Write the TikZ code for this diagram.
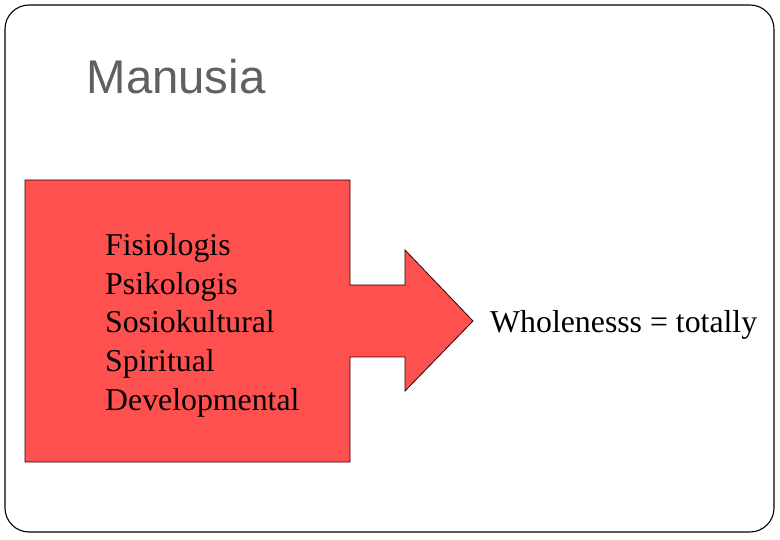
\documentclass[tikz,border=0pt]{standalone}
\usepackage{fontspec}
\setmainfont{Liberation Serif}
\newfontfamily\titlefont{Liberation Sans}
\definecolor{shapered}{HTML}{FF5050}
\definecolor{titlegray}{HTML}{606060}
\begin{document}
\begin{tikzpicture}[x=1pt,y=-1pt,
  itemtext/.style={anchor=base west,inner sep=0pt,font=\fontsize{31.8}{38.5}\selectfont},
  titletext/.style={anchor=base west,inner sep=0pt,text=titlegray,font=\titlefont\fontsize{47.3}{56}\selectfont},
  frame/.style={draw=black,line width=1.1pt,rounded corners=24pt},
  redshape/.style={draw=black!80!red,fill=shapered,line width=0.8pt}]
\useasboundingbox (0,0) rectangle (780,540);
\draw[frame] (5,5) rectangle (774,532);
\node[titletext] (title) at (86.5,94) {Manusia};
\draw[redshape] (25,180) -- (350,180) -- (350,285) -- (405,285) -- (405,250) -- (473,321) -- (405,391) -- (405,357) -- (350,357) -- (350,462) -- (25,462) -- cycle;
\node[itemtext] (l1) at (105,256) {Fisiologis};
\node[itemtext] (l2) at (105,294.5) {Psikologis};
\node[itemtext] (l3) at (105,333) {Sosiokultural};
\node[itemtext] (l4) at (105,371.5) {Spiritual};
\node[itemtext] (l5) at (105,410) {Developmental};
\node[itemtext] (whole) at (490,333) {Wholenesss = totally};
\end{tikzpicture}
\end{document}
